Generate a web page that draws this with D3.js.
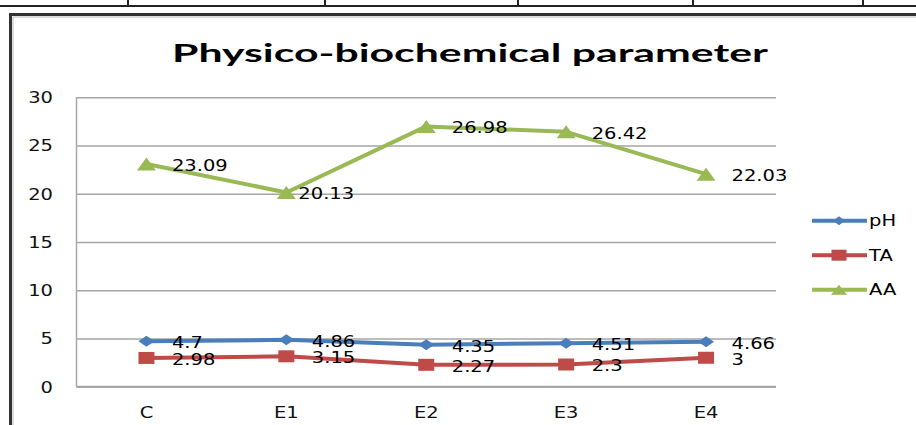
<!DOCTYPE html>
<html>
<head>
<meta charset="utf-8">
<script src="https://cdn.jsdelivr.net/npm/d3@7/dist/d3.min.js"></script>
<style>
  html, body { margin: 0; padding: 0; background: #fff; }
  svg { display: block; }
</style>
</head>
<body>
<svg id="chart" width="916" height="425"></svg>
<script>
// ---- data ----
const categories = ["C", "E1", "E2", "E3", "E4"];
const phValues = [4.7, 4.86, 4.35, 4.51, 4.66];
const taValues = [2.98, 3.15, 2.27, 2.3, 3];
const aaValues = [23.09, 20.13, 26.98, 26.42, 22.03];
const seriesNames = ["pH", "TA", "AA"];
const yTicks = [0, 5, 10, 15, 20, 25, 30];
const titleText = "Physico-biochemical parameter";

// ---- layout ----
const W = 916, H = 425;
const plot = { left: 76.5, right: 776, top: 97.3, bottom: 386.7 };
const FONT = "'DejaVu Sans', Verdana, sans-serif";
const STRETCH = 1.3; // horizontal widening applied to the chart's text

const svg = d3.select("#chart");
svg.append("rect").attr("width", W).attr("height", H).attr("fill", "#fff");

// widen glyphs horizontally while keeping their height
function stretch(sel, k) {
  sel.each(function () {
    const w = this.getComputedTextLength();
    d3.select(this).attr("textLength", w * k).attr("lengthAdjust", "spacingAndGlyphs");
  });
}

// ---- surrounding page rules ----
const page = svg.append("g");
page.append("line").attr("x1", 0).attr("x2", W).attr("y1", 6).attr("y2", 6)
  .attr("stroke", "#222").attr("stroke-width", 2);
[128, 325, 518, 693, 863].forEach(x => {
  page.append("line").attr("x1", x).attr("x2", x).attr("y1", 0).attr("y2", 7)
    .attr("stroke", "#222").attr("stroke-width", 2);
});
// chart frame
page.append("path")
  .attr("d", `M10.5,${H} L10.5,14.5 L${W},14.5`)
  .attr("fill", "none").attr("stroke", "#333").attr("stroke-width", 3);
page.append("path")
  .attr("d", `M13,${H} L13,17 L${W},17`)
  .attr("fill", "none").attr("stroke", "#bbb").attr("stroke-width", 1);

// ---- scales ----
const x = d3.scaleBand().domain(categories).range([plot.left, plot.right]).paddingInner(0).paddingOuter(0);
const cx = c => x(c) + x.bandwidth() / 2;
const y = d3.scaleLinear().domain([0, 30]).range([plot.bottom, plot.top]);

// ---- title ----
const title = svg.append("text")
  .attr("x", 470).attr("y", 62)
  .attr("text-anchor", "middle")
  .attr("font-family", "Lato, 'Open Sans', sans-serif")
  .attr("font-weight", "bold")
  .attr("font-size", 25)
  .attr("fill", "#000")
  .text(titleText);
title.attr("textLength", 596).attr("lengthAdjust", "spacingAndGlyphs");

// ---- gridlines ----
const grid = svg.append("g").attr("transform", `translate(${plot.left},0)`)
  .call(d3.axisLeft(y).tickValues(yTicks).tickSize(-(plot.right - plot.left)).tickFormat(""));
grid.select(".domain").remove();
grid.selectAll(".tick line").attr("stroke", "#a6a6a6").attr("stroke-width", 1.5);

// axis lines
svg.append("line").attr("x1", plot.left).attr("x2", plot.left)
  .attr("y1", plot.top).attr("y2", plot.bottom)
  .attr("stroke", "#a6a6a6").attr("stroke-width", 1.5);
svg.append("line").attr("x1", plot.left).attr("x2", plot.right)
  .attr("y1", plot.bottom).attr("y2", plot.bottom)
  .attr("stroke", "#a6a6a6").attr("stroke-width", 2);

// ---- y tick labels ----
const yAxis = svg.append("g").attr("transform", `translate(${plot.left},0)`)
  .call(d3.axisLeft(y).tickValues(yTicks).tickSize(0).tickPadding(23.5));
yAxis.select(".domain").remove();
yAxis.selectAll("text")
  .attr("font-family", FONT).attr("font-size", 15).attr("fill", "#111")
  .attr("dy", "0.36em");
stretch(yAxis.selectAll("text"), STRETCH);

// ---- x tick labels ----
const xAxis = svg.append("g").attr("transform", `translate(0,${plot.bottom})`)
  .call(d3.axisBottom(x).tickSize(0).tickPadding(21));
xAxis.select(".domain").remove();
xAxis.selectAll("text")
  .attr("font-family", FONT).attr("font-size", 15).attr("fill", "#111")
  .attr("dy", "0.71em");
stretch(xAxis.selectAll("text"), STRETCH);

// ---- series ----
const colors = { pH: "#4a7ebb", TA: "#be4b48", AA: "#98b954" };
const markerPaths = {
  pH: (w, h) => `M0,${-h / 2}L${w / 2},0L0,${h / 2}L${-w / 2},0Z`,
  TA: (w, h) => `M${-w / 2},${-h / 2}H${w / 2}V${h / 2}H${-w / 2}Z`,
  AA: (w, h) => `M0,${-h / 2}L${w / 2},${h / 2}L${-w / 2},${h / 2}Z`
};
const markerSize = { pH: [16, 11], TA: [16, 12], AA: [19, 13] };
const legendMarkerSize = { pH: [12, 9], TA: [15, 11], AA: [16, 10] };

const series = [
  { name: "pH", values: phValues },
  { name: "TA", values: taValues },
  { name: "AA", values: aaValues }
];

const line = d3.line().x((d, i) => cx(categories[i])).y(d => y(d));

series.forEach(s => {
  const g = svg.append("g");
  g.append("path").datum(s.values)
    .attr("d", line)
    .attr("fill", "none")
    .attr("stroke", colors[s.name])
    .attr("stroke-width", 4)
    .attr("stroke-linejoin", "round");
  g.selectAll("path.marker").data(s.values).enter().append("path")
    .attr("class", "marker")
    .attr("transform", (d, i) => `translate(${cx(categories[i])},${y(d)})`)
    .attr("d", markerPaths[s.name](...markerSize[s.name]))
    .attr("fill", colors[s.name]);
});

// ---- data labels ----
const labelShift = { "AA-1": 12 };
series.forEach(s => {
  const labels = svg.append("g").selectAll("text").data(s.values).enter().append("text")
    .attr("x", (d, i) => cx(categories[i]) + (labelShift[`${s.name}-${i}`] ?? 25.5))
    .attr("y", d => y(d) + 1.5)
    .attr("dy", "0.36em")
    .attr("font-family", FONT).attr("font-size", 15).attr("fill", "#000")
    .text(d => String(d));
  stretch(labels, STRETCH);
});

// ---- legend ----
const legend = svg.append("g");
const legendY = [220.7, 255.2, 289.7];
seriesNames.forEach((name, i) => {
  const g = legend.append("g").attr("transform", `translate(0,${legendY[i]})`);
  g.append("line").attr("x1", 812).attr("x2", 867).attr("y1", 0).attr("y2", 0)
    .attr("stroke", colors[name]).attr("stroke-width", 4);
  g.append("path").attr("transform", "translate(839,0)")
    .attr("d", markerPaths[name](...legendMarkerSize[name]))
    .attr("fill", colors[name]);
  const t = g.append("text").attr("x", 869).attr("y", 0).attr("dy", "0.36em")
    .attr("font-family", FONT).attr("font-size", 15).attr("fill", "#000")
    .text(name);
  stretch(t, STRETCH);
});
</script>
</body>
</html>
